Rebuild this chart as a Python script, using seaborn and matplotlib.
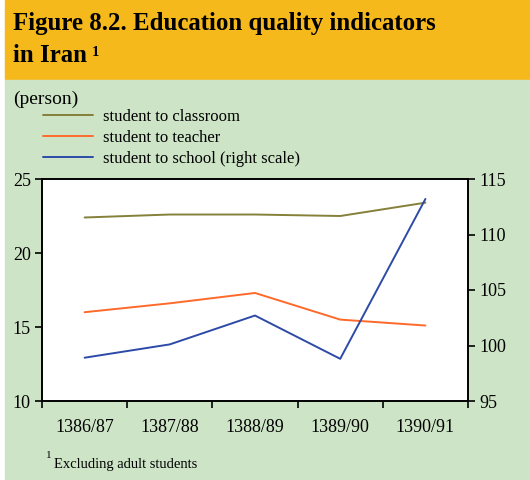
import numpy as np
import pandas as pd
import matplotlib
matplotlib.use("Agg")
import matplotlib.pyplot as plt
import seaborn as sns
from matplotlib.patches import Rectangle
from matplotlib.lines import Line2D

# ------------- Data -------------
years = ['1386/87', '1387/88', '1388/89', '1389/90', '1390/91']
student_to_classroom = [22.4, 22.6, 22.6, 22.5, 23.4]
student_to_teacher = [16.0, 16.6, 17.3, 15.5, 15.1]
student_to_school = [98.9, 100.1, 102.7, 98.8, 113.2]   # right scale

left_ticks = [10, 15, 20, 25]
right_ticks = [95, 100, 105, 110, 115]

c_class = '#85803a'
c_teach = '#ff6a2a'
c_school = '#2d4aa8'
orange_bg = '#f5b91c'
green_bg = '#cde5c6'

df = pd.DataFrame({'year': years,
                   'classroom': student_to_classroom,
                   'teacher': student_to_teacher,
                   'school': student_to_school})
df['pos'] = np.arange(len(years))

sns.set_style('white')
plt.rcParams['font.family'] = ['Liberation Serif', 'DejaVu Serif']
plt.rcParams['text.color'] = 'black'
plt.rcParams['xtick.color'] = 'black'
plt.rcParams['ytick.color'] = 'black'
plt.rcParams['xtick.labelcolor'] = 'black'
plt.rcParams['ytick.labelcolor'] = 'black'

fig = plt.figure(figsize=(5.3, 4.8), dpi=100)
W, H = 530, 480

# background panels (orange header, green body)
fig.patches.append(Rectangle((5 / W, 1 - 80 / H), 1, 80 / H, transform=fig.transFigure,
                             color=orange_bg, zorder=-10))
fig.patches.append(Rectangle((5 / W, 0), 1, 1 - 80 / H, transform=fig.transFigure,
                             color=green_bg, zorder=-10))

ax = fig.add_axes([42 / W, 1 - 401 / H, 426 / W, 222 / H])
ax.set_facecolor('white')

sns.lineplot(data=df, x='pos', y='classroom', ax=ax, color=c_class, lw=1.4)
sns.lineplot(data=df, x='pos', y='teacher', ax=ax, color=c_teach, lw=1.4)
ax.set_ylim(10, 25)
ax.set_yticks(left_ticks)
ax.set_xlim(-0.5, len(years) - 0.5)

ax2 = ax.twinx()
sns.lineplot(data=df, x='pos', y='school', ax=ax2, color=c_school, lw=1.4)
ax2.set_ylim(95, 115)
ax2.set_yticks(right_ticks)

for a in (ax, ax2):
    a.set_xlabel('')
    a.set_ylabel('')
    for s in a.spines.values():
        s.set_color('black')
        s.set_linewidth(1.2)

ax.set_xticks(df['pos'])
ax.set_xticklabels(years)
ax.set_xticks(np.arange(-0.5, len(years)), minor=True)
ax.tick_params(axis='x', which='major', length=0, labelsize=13, pad=13)
ax.tick_params(axis='x', which='minor', length=5, width=1.2, direction='out', bottom=True)
ax.tick_params(axis='y', length=5, width=1.2, direction='out', left=True, labelsize=13, pad=3)
ax2.tick_params(axis='y', length=5, width=1.2, direction='out', right=True, labelsize=13, pad=3)

# title
fig.text(13 / W, 1 - 30 / H, 'Figure 8.2. Education quality indicators', fontsize=17.9,
         fontweight='bold', ha='left', va='baseline')
fig.text(13 / W, 1 - 62 / H, 'in Iran', fontsize=17.9, fontweight='bold',
         ha='left', va='baseline')
fig.text(92 / W, 1 - 56 / H, '1', fontsize=10.5, fontweight='bold', ha='left',
         va='baseline')

fig.text(13 / W, 1 - 99 / H, '(person)', fontsize=14, ha='left', va='center')

handles = [Line2D([], [], color=c_class, lw=1.4),
           Line2D([], [], color=c_teach, lw=1.4),
           Line2D([], [], color=c_school, lw=1.4)]
fig.legend(handles, ['student to classroom', 'student to teacher',
                     'student to school (right scale)'],
           loc='upper left', bbox_to_anchor=(43 / W, 1 - 109 / H), frameon=False,
           fontsize=12, handlelength=3.0, handletextpad=0.6, labelspacing=0.3,
           borderaxespad=0, borderpad=0)

fig.text(46 / W, 1 - 460 / H, '1', fontsize=8, ha='left', va='bottom')
fig.text(54 / W, 1 - 468 / H, 'Excluding adult students', fontsize=10.5, ha='left',
         va='baseline')

fig.savefig('out.png', dpi=100)
